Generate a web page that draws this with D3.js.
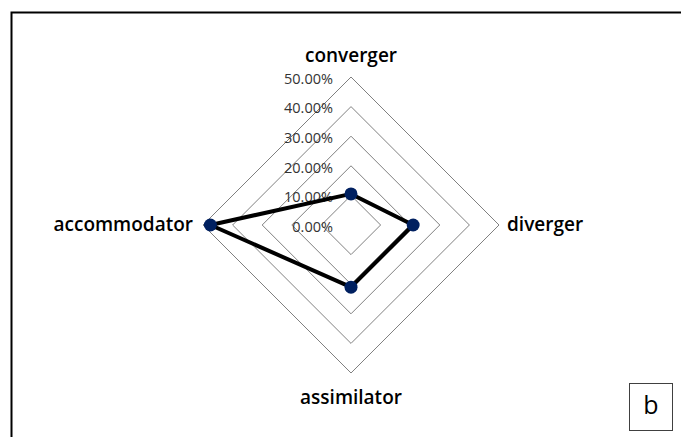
<!DOCTYPE html>
<html>
<head>
<meta charset="utf-8">
<script src="https://cdn.jsdelivr.net/npm/d3@7"></script>
<style>
  html, body { margin: 0; padding: 0; background: #fff; overflow: hidden; }
  svg { display: block; }
</style>
</head>
<body>
<div id="chart"></div>
<script>
const categories = ["converger", "diverger", "assimilator", "accommodator"];
const values = [0.105, 0.21, 0.21, 0.475];
const ticks = [0, 0.1, 0.2, 0.3, 0.4, 0.5];
const panelLabel = "b";

const width = 681;
const height = 437;
const cx = 351, cy = 225;

const svg = d3.select("#chart")
  .append("svg")
  .attr("width", width)
  .attr("height", height);

// outer frame: only top and left edges are on the page
svg.append("path")
  .attr("d", `M11.5,${height}V12.5H${width}`)
  .attr("fill", "none")
  .attr("stroke", "#000")
  .attr("stroke-width", 2);

const r = d3.scaleLinear().domain([0, 0.5]).range([0, 148]);
const angle = d3.scalePoint().domain(categories).range([0, 2 * Math.PI * 3 / 4]);

const g = svg.append("g").attr("transform", `translate(${cx},${cy})`);

const ring = d3.lineRadial()
  .angle(d => angle(d))
  .curve(d3.curveLinearClosed);

// grid rings
g.selectAll(".ring")
  .data(ticks.filter(t => t > 0))
  .enter().append("path")
  .attr("class", "ring")
  .attr("fill", "none")
  .attr("stroke", "#808080")
  .attr("stroke-width", 1)
  .attr("d", t => ring.radius(r(t))(categories));

// tick labels
g.selectAll(".tick")
  .data(ticks)
  .enter().append("text")
  .attr("class", "tick")
  .attr("x", -18)
  .attr("y", t => -r(t) + 3)
  .attr("text-anchor", "end")
  .attr("dominant-baseline", "middle")
  .attr("font-family", "'Open Sans', sans-serif")
  .attr("font-size", 14.5)
  .attr("fill", "#333")
  .text(d3.format(".2%"));

// series line
const series = d3.lineRadial()
  .angle((d, i) => angle(categories[i]))
  .radius(d => r(d))
  .curve(d3.curveLinearClosed);

g.append("path")
  .datum(values)
  .attr("fill", "none")
  .attr("stroke", "#000")
  .attr("stroke-width", 4)
  .attr("stroke-linejoin", "round")
  .attr("d", series);

const px = (d, i) => r(d) * Math.sin(angle(categories[i]));
const py = (d, i) => -r(d) * Math.cos(angle(categories[i]));

g.selectAll(".dot")
  .data(values)
  .enter().append("circle")
  .attr("class", "dot")
  .attr("cx", px)
  .attr("cy", py)
  .attr("r", 6.5)
  .attr("fill", "#002060");

// category labels
const labelPos = {
  converger: { dx: 0, dy: -168, anchor: "middle" },
  diverger: { dx: 156, dy: 1, anchor: "start" },
  assimilator: { dx: 0, dy: 174, anchor: "middle" },
  accommodator: { dx: -158, dy: 1, anchor: "end" }
};

g.selectAll(".cat")
  .data(categories)
  .enter().append("text")
  .attr("class", "cat")
  .attr("x", d => labelPos[d].dx)
  .attr("y", d => labelPos[d].dy)
  .attr("text-anchor", d => labelPos[d].anchor)
  .attr("dominant-baseline", "middle")
  .attr("font-family", "'Open Sans', sans-serif")
  .attr("font-weight", 600)
  .attr("font-size", 19)
  .attr("fill", "#000")
  .text(d => d);

// panel letter box
svg.append("rect")
  .attr("x", 629.5).attr("y", 383.5)
  .attr("width", 43).attr("height", 47)
  .attr("fill", "#fff")
  .attr("stroke", "#404040")
  .attr("stroke-width", 1);

svg.append("text")
  .attr("x", 651)
  .attr("y", 407)
  .attr("text-anchor", "middle")
  .attr("dominant-baseline", "middle")
  .attr("font-family", "'Open Sans', sans-serif")
  .attr("font-size", 25)
  .attr("fill", "#000")
  .text(panelLabel);
</script>
</body>
</html>
